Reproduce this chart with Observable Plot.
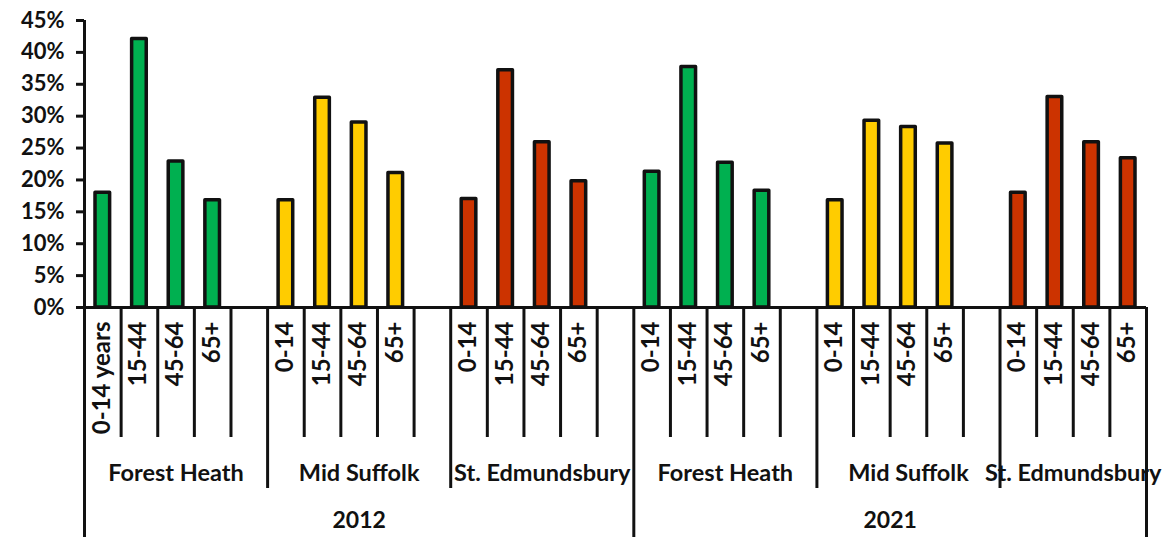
<!DOCTYPE html>
<html>
<head>
<meta charset="utf-8">
<script src="https://cdn.jsdelivr.net/npm/d3@7"></script>
<script src="https://cdn.jsdelivr.net/npm/@observablehq/plot@0.6"></script>
<style>
  html, body { margin: 0; padding: 0; background: #fff; }
  #chart { width: 1173px; height: 537px; }
</style>
</head>
<body>
<div id="chart"></div>
<script>
// ---- data ----
const years = ["2012", "2021"];
const districts = ["Forest Heath", "Mid Suffolk", "St. Edmundsbury"];
const ageBands = ["0-14", "15-44", "45-64", "65+"];
const firstAgeLabel = "0-14 years";
const districtColors = ["#00B050", "#FFCC00", "#CC3300"];
const yTicks = [0, 5, 10, 15, 20, 25, 30, 35, 40, 45];

const forestHeath2012 = [18.0, 42.1, 22.9, 16.8];
const midSuffolk2012 = [16.8, 32.9, 29.0, 21.1];
const stEdmundsbury2012 = [17.0, 37.2, 25.9, 19.8];
const forestHeath2021 = [21.3, 37.7, 22.7, 18.3];
const midSuffolk2021 = [16.8, 29.3, 28.3, 25.7];
const stEdmundsbury2021 = [18.0, 33.0, 25.9, 23.4];

const seriesValues = [
  [forestHeath2012, midSuffolk2012, stEdmundsbury2012],
  [forestHeath2021, midSuffolk2021, stEdmundsbury2021]
];

// ---- derived tables ----
const slotsPerGroup = ageBands.length + 1; // 4 bars + gap
const groupCount = years.length * districts.length;
const totalSlots = groupCount * slotsPerGroup - 1;

const bars = [];
const groups = [];
years.forEach((yr, yi) => {
  districts.forEach((dist, di) => {
    const g = yi * districts.length + di;
    const start = g * slotsPerGroup;
    const end = Math.min(start + slotsPerGroup, totalSlots);
    groups.push({year: yr, district: dist, start, end});
    seriesValues[yi][di].forEach((v, ai) => {
      bars.push({
        slot: start + ai,
        value: v,
        district: dist,
        label: (g === 0 && ai === 0) ? firstAgeLabel : ageBands[ai]
      });
    });
  });
});
const yearGroups = years.map((yr, yi) => ({
  year: yr,
  start: yi * districts.length * slotsPerGroup,
  end: Math.min((yi + 1) * districts.length * slotsPerGroup, totalSlots)
}));

const boundaries = d3.range(0, totalSlots + 1).map(i => {
  const isYear = i === 0 || i === totalSlots || i % (districts.length * slotsPerGroup) === 0;
  const isDistrict = !isYear && i % slotsPerGroup === 0;
  return {pos: i, kind: isYear ? "year" : isDistrict ? "district" : "tick"};
});

const ink = "#111";
const W = 1173, H = 537;
const mTop = 20, mBottom = 230, mLeft = 84, mRight = 27;

const chart = Plot.plot({
  width: W,
  height: H,
  marginTop: mTop,
  marginBottom: mBottom,
  marginLeft: mLeft,
  marginRight: mRight,
  style: {fontFamily: "Lato, 'Open Sans', sans-serif", fontSize: "22px", fontWeight: "bold", color: ink, background: "#fff"},
  x: {type: "linear", domain: [0, totalSlots], axis: null},
  y: {domain: [0, 45]},
  color: {domain: districts, range: districtColors},
  marks: [
    Plot.axisY({
      ticks: yTicks,
      tickFormat: d => d + "%",
      tickSize: 8,
      tickPadding: 12,
      strokeWidth: 3,
      stroke: ink,
      fill: ink,
      label: null,
      fontSize: 22
    }),
    // short category ticks
    Plot.ruleX(boundaries.filter(d => d.kind === "tick"), {x: "pos", y1: 0, y2: 0, insetBottom: -130, stroke: ink, strokeWidth: 3}),
    // district separators
    Plot.ruleX(boundaries.filter(d => d.kind === "district"), {x: "pos", y1: 0, y2: 0, insetBottom: -181, stroke: ink, strokeWidth: 3}),
    // year separators
    Plot.ruleX(boundaries.filter(d => d.kind === "year"), {x: "pos", y1: 0, y2: 0, insetBottom: -mBottom, stroke: ink, strokeWidth: 3}),
    // y axis line
    Plot.ruleX([0], {stroke: ink, strokeWidth: 3}),
    // bars
    Plot.rectY(bars, {
      x1: d => d.slot,
      x2: d => d.slot + 1,
      y: "value",
      fill: "district",
      stroke: ink,
      strokeWidth: 3.5,
      strokeLinejoin: "round",
      insetLeft: 11,
      insetRight: 11
    }),
    // baseline
    Plot.ruleY([0], {stroke: ink, strokeWidth: 3}),
    // rotated age labels
    Plot.text(bars, {
      x: d => d.slot + 0.5,
      text: "label",
      frameAnchor: "bottom",
      rotate: -90,
      textAnchor: "end",
      dx: 7,
      dy: 14,
      fill: ink,
      fontSize: 24,
      fontWeight: "bold"
    }),
    // district labels
    Plot.text(groups, {
      x: d => (d.start + d.end) / 2,
      text: "district",
      frameAnchor: "bottom",
      dy: 173,
      fill: ink,
      fontSize: 23.5,
      fontWeight: "bold"
    }),
    // year labels
    Plot.text(yearGroups, {
      x: d => (d.start + d.end) / 2,
      text: "year",
      frameAnchor: "bottom",
      dy: 220,
      fill: ink,
      fontSize: 23,
      fontWeight: "bold"
    })
  ]
});
document.getElementById("chart").appendChild(chart);
</script>
</body>
</html>
